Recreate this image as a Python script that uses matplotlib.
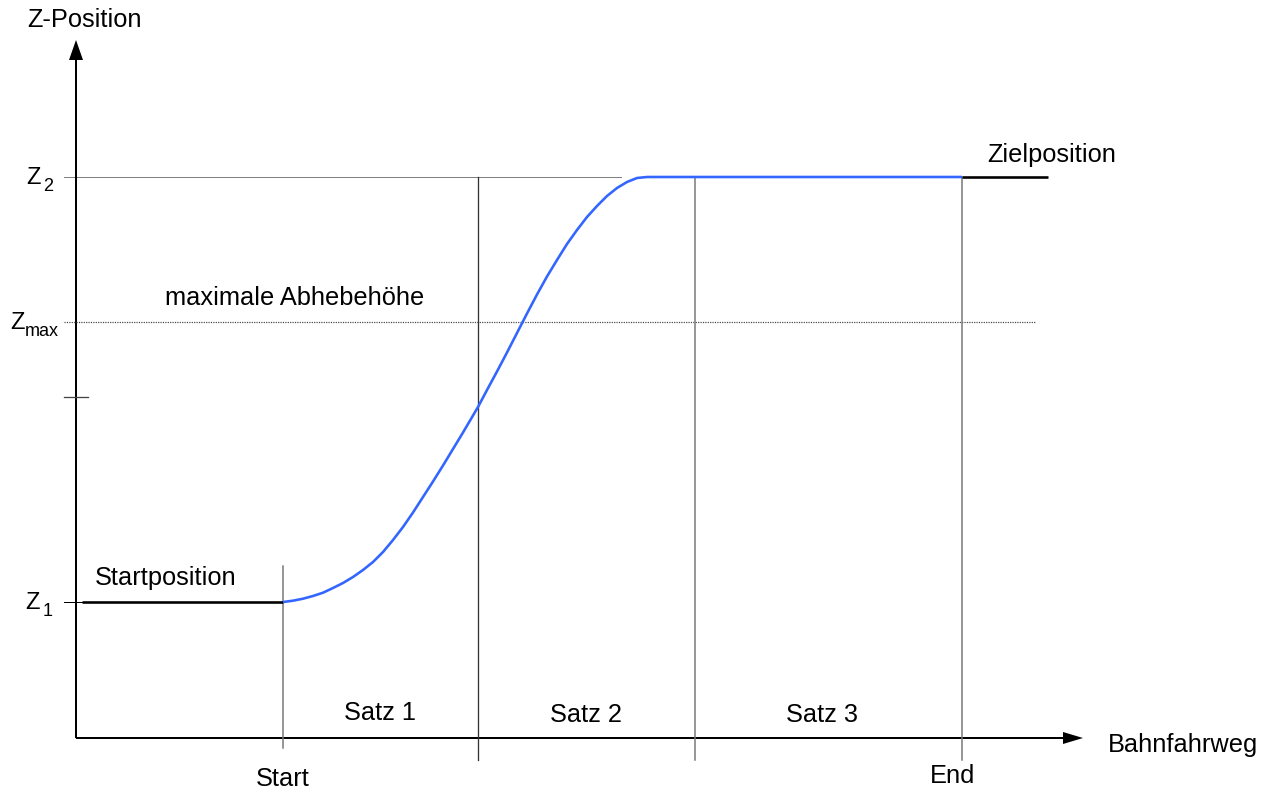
import matplotlib
matplotlib.use("Agg")
import matplotlib.pyplot as plt
from matplotlib.patches import Polygon

plt.rcParams['font.family'] = ['Liberation Sans', 'DejaVu Sans']

# ---- data (path distance along x, Z position along y) ----
z_levels = {"Z1": 136, "Zmid": 341, "Zmax": 416, "Z2": 561}
boundaries = [207, 402, 619, 886]           # Start, Satz1|2, Satz2|3, End
block_labels = ["Satz 1", "Satz 2", "Satz 3"]
path_x = [207, 217, 227, 237, 247, 257, 267, 277, 287, 297, 307, 317, 327, 337,
          347, 357, 367, 377, 387, 397, 402, 411, 421, 431, 441, 451, 461, 471,
          481, 491, 501, 511, 521, 531, 541, 551, 561, 571, 580, 886]
path_z = [136, 137.3, 139.3, 142, 145.3, 150, 155, 161, 168, 176, 186, 198, 211, 225.5,
          241, 256.5, 272.5, 289, 305.5, 322.5, 331, 348, 366.5, 385.5, 405, 424.5, 443.5, 461.5,
          478, 494, 508, 521, 532, 542, 550, 556, 560, 561, 561, 561]
start_seg_x = [6, 207]
end_seg_x = [886, 972]
x_axis_end = 1007
y_axis_end = 698

fig = plt.figure(figsize=(12.69, 7.93), dpi=100)
ax = fig.add_axes([0, 0, 1, 1])
ax.set_xlim(-76, 1193)
ax.set_ylim(-55, 738)
ax.axis('off')

px = 0.72  # one pixel in points
fs = 18.3

z1, zmid, zmax, z2 = z_levels["Z1"], z_levels["Zmid"], z_levels["Zmax"], z_levels["Z2"]
x_start, x_b1, x_b2, x_end = boundaries

# axes with arrows
ax.plot([0, 0], [0, y_axis_end - 20], color='black', lw=2 * px, solid_capstyle='butt')
ax.plot([0, x_axis_end - 20], [0, 0], color='black', lw=2 * px, solid_capstyle='butt')
ax.add_patch(Polygon([[-7, y_axis_end - 20], [7, y_axis_end - 20], [0, y_axis_end]],
                     closed=True, color='black', lw=0))
ax.add_patch(Polygon([[x_axis_end - 20, -6], [x_axis_end - 20, 6], [x_axis_end, 0]],
                     closed=True, color='black', lw=0))

# horizontal reference lines
ax.plot([-12, 546], [z2, z2], color='black', lw=1 * px, ls=(0, (1, 1)))
ax.plot([-12, 960], [zmax, zmax], color='#444444', lw=1.2 * px, ls=(0, (1, 1)))
ax.plot([-12, 12], [zmid, zmid], color='#444444', lw=1.3 * px)
ax.plot([-12, 6], [z1, z1], color='black', lw=1 * px)

# vertical block boundaries
ax.plot([x_start, x_start], [-10, 172], color='#777777', lw=1.5 * px)
ax.plot([x_b1, x_b1], [-22, z2], color='#333333', lw=1.3 * px)
ax.plot([x_b2, x_b2], [-22, z2], color='#777777', lw=1.5 * px)
ax.plot([x_end, x_end], [-22, z2], color='#777777', lw=1.5 * px)

# start / target position segments
ax.plot(start_seg_x, [z1, z1], color='black', lw=2.6 * px, solid_capstyle='butt')
ax.plot(end_seg_x, [z2, z2], color='black', lw=2.6 * px, solid_capstyle='butt')

# path curve
ax.plot(path_x, path_z, color='#3366FF', lw=2.6 * px, solid_capstyle='butt',
        solid_joinstyle='round')

# text
ax.text(-49, 718, "Z-Position", fontsize=fs, ha='left', va='center')
ax.text(1032, -7, "Bahnfahrweg", fontsize=fs, ha='left', va='center')
ax.text(89, 440, "maximale Abhebehöhe", fontsize=fs, ha='left', va='center')
ax.text(19, 160, "Startposition", fontsize=fs, ha='left', va='center')
ax.text(911, 583, "Zielposition", fontsize=fs, ha='left', va='center')
sat_x = [304, 510, 746]
sat_y = [25, 23, 23]
for sx, sy, lab in zip(sat_x, sat_y, block_labels):
    ax.text(sx, sy, lab, fontsize=fs, ha='center', va='center')
ax.text(x_start, -41, "Start", fontsize=fs, ha='center', va='center')
ax.text(x_end - 9, -38, "End", fontsize=fs, ha='center', va='center')

# Z labels with subscripts
for zval, sub, zx, sx in [(z2, "2", -50, -33), (zmax, "max", -66, -51), (z1, "1", -51, -33)]:
    ax.text(zx, zval - 7, "Z", fontsize=17, ha='left', va='baseline')
    ax.text(sx, zval - 14, sub, fontsize=13, ha='left', va='baseline')

fig.savefig("out.png", dpi=100)
